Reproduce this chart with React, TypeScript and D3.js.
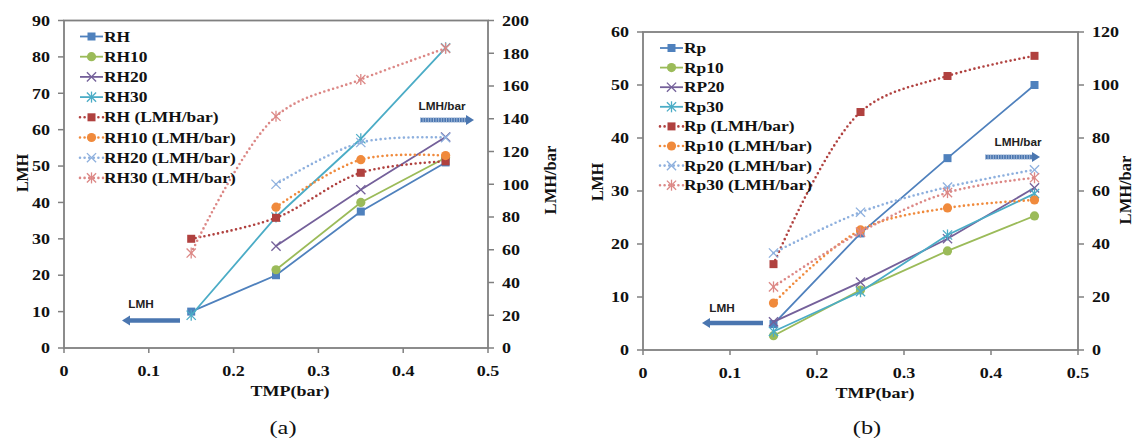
import React from "react";
import * as d3 from "d3";

// Transmembrane pressure (bar) at which each run was measured
const TMP = [0.15, 0.25, 0.35, 0.45];
const X_TICKS = [0, 0.1, 0.2, 0.3, 0.4, 0.5];

// Panel (a): flux in LMH (left axis)
const aRH = [10, 20, 37.5, 51];
const aRH10 = [null, 21.5, 40, 52.3];
const aRH20 = [null, 28, 43.5, 58];
const aRH30 = [9, 36, 57.5, 82.5];
// Panel (a): permeability in LMH/bar (right axis)
const aRHp = [66.7, 79.5, 107, 114];
const aRH10p = [null, 86, 115, 117.5];
const aRH20p = [null, 100, 125.5, 128.5];
const aRH30p = [58, 141.5, 164, 183];
const aLeftTicks = [0, 10, 20, 30, 40, 50, 60, 70, 80, 90];
const aRightTicks = [0, 20, 40, 60, 80, 100, 120, 140, 160, 180, 200];

// Panel (b): flux in LMH (left axis)
const bRp = [4.9, 22, 36.2, 50];
const bRp10 = [2.7, 11.3, 18.7, 25.3];
const bRP20 = [5.3, 12.8, 21, 30.6];
const bRp30 = [3.5, 11, 21.7, 29.5];
// Panel (b): permeability in LMH/bar (right axis)
const bRpP = [32.4, 89.8, 103.4, 111];
const bRp10P = [17.7, 45.3, 53.6, 56.6];
const bRp20P = [36.6, 52, 61.5, 68];
const bRp30P = [23.8, 44.5, 59.4, 65];
const bLeftTicks = [0, 10, 20, 30, 40, 50, 60];
const bRightTicks = [0, 20, 40, 60, 80, 100, 120];

const aNames = ["RH", "RH10", "RH20", "RH30", "RH (LMH/bar)", "RH10 (LMH/bar)", "RH20 (LMH/bar)", "RH30 (LMH/bar)"];
const bNames = ["Rp", "Rp10", "RP20", "Rp30", "Rp (LMH/bar)", "Rp10 (LMH/bar)", "Rp20 (LMH/bar)", "Rp30 (LMH/bar)"];

type Marker = "square" | "circle" | "x" | "star";
type Style = { color: string; marker: Marker; dotted: boolean; axis: "L" | "R" };

const STYLES: Style[] = [
  { color: "#4F81BD", marker: "square", dotted: false, axis: "L" },
  { color: "#9BBB59", marker: "circle", dotted: false, axis: "L" },
  { color: "#74609A", marker: "x", dotted: false, axis: "L" },
  { color: "#4BACC6", marker: "star", dotted: false, axis: "L" },
  { color: "#B0413F", marker: "square", dotted: true, axis: "R" },
  { color: "#F08A3C", marker: "circle", dotted: true, axis: "R" },
  { color: "#8EB0DE", marker: "x", dotted: true, axis: "R" },
  { color: "#DC8886", marker: "star", dotted: true, axis: "R" },
];

const SERIF = "'Liberation Serif', 'Times New Roman', serif";
const SANS = "'Liberation Sans', Arial, sans-serif";
const SX = 1.2;
const AXIS = "#808080";
const ARROW = "#4A76B0";

function T({ x, y, children, size = 15, anchor = "start", weight = "bold", family = SERIF, sx = SX, fill = "#111", dy = "0" }: any) {
  return (
    <text
      transform={`translate(${x},${y}) scale(${sx},1)`}
      textAnchor={anchor}
      fontSize={size}
      fontWeight={weight}
      fontFamily={family}
      fill={fill}
      dy={dy}
    >
      {children}
    </text>
  );
}

function MarkerShape({ kind, x, y, color }: { kind: Marker; x: number; y: number; color: string }) {
  if (kind === "square") return <rect x={x - 4} y={y - 4} width={8} height={8} fill={color} />;
  if (kind === "circle") return <circle cx={x} cy={y} r={4.6} fill={color} />;
  const r = 4.6;
  return (
    <g stroke={color} strokeWidth={1.3} fill="none">
      <line x1={x - r} y1={y - r} x2={x + r} y2={y + r} />
      <line x1={x - r} y1={y + r} x2={x + r} y2={y - r} />
      {kind === "star" && <line x1={x} y1={y - r * 1.2} x2={x} y2={y + r * 1.2} />}
    </g>
  );
}

function Arrow({ x1, x2, y, label, lx, ly, striped }: any) {
  const dir = Math.sign(x2 - x1);
  const head = 8;
  const tipBase = x2 - dir * head;
  return (
    <g>
      <line x1={x1} y1={y} x2={tipBase} y2={y} stroke={ARROW} strokeWidth={4.5} />
      {striped && (
        <line x1={x1} y1={y} x2={tipBase} y2={y} stroke="#9DB6D8" strokeWidth={4.5} strokeDasharray="1 1.6" />
      )}
      <path d={`M${x2},${y} L${tipBase},${y - 5} L${tipBase},${y + 5} Z`} fill={ARROW} />
      <T x={lx} y={ly} size={10.5} family={SANS} anchor="middle" sx={1.12} fill="#222">
        {label}
      </T>
    </g>
  );
}

type PanelProps = {
  left: number; right: number; top: number; bottom: number;
  leftTicks: number[]; rightTicks: number[];
  left_: (number | null)[][]; right_: (number | null)[][];
  names: string[];
  legendX: number; legendY: number; legendStep: number;
  yTitle: [number, number]; y2Title: [number, number];
  xTitleX: number; caption: string; captionX: number;
  arrows: any[];
};

function Panel(p: PanelProps) {
  const x = d3.scaleLinear().domain([0, 0.5]).range([p.left, p.right]);
  const yL = d3.scaleLinear().domain([0, d3.max(p.leftTicks)!]).range([p.bottom, p.top]);
  const yR = d3.scaleLinear().domain([0, d3.max(p.rightTicks)!]).range([p.bottom, p.top]);
  const all = [...p.left_, ...p.right_];

  const series = all.map((vals, i) => {
    const st = STYLES[i];
    const y = st.axis === "L" ? yL : yR;
    const pts = TMP.map((t, j) => ({ t, v: vals[j] })).filter((d) => d.v != null) as { t: number; v: number }[];
    const line = d3
      .line<{ t: number; v: number }>()
      .x((d) => x(d.t))
      .y((d) => y(d.v))
      .curve(st.dotted ? d3.curveCatmullRom.alpha(0.5) : d3.curveLinear);
    return { st, pts, d: line(pts)!, y };
  });

  return (
    <g>
      {/* frame and axes */}
      <rect x={p.left} y={p.top} width={p.right - p.left} height={p.bottom - p.top} fill="none" stroke={AXIS} strokeWidth={1.8} />
      {X_TICKS.map((t) => (
        <g key={"xt" + t}>
          <line x1={x(t)} x2={x(t)} y1={p.bottom} y2={p.bottom + 5} stroke={AXIS} strokeWidth={1.5} />
          <T x={x(t)} y={p.bottom + 28} anchor="middle">{t === 0 ? "0" : String(t)}</T>
        </g>
      ))}
      {p.leftTicks.map((t) => (
        <g key={"yl" + t}>
          <line x1={p.left - 6} x2={p.left} y1={yL(t)} y2={yL(t)} stroke={AXIS} strokeWidth={1.5} />
          <T x={p.left - 14} y={yL(t)} anchor="end" dy="0.35em">{t}</T>
        </g>
      ))}
      {p.rightTicks.map((t) => (
        <g key={"yr" + t}>
          <line x1={p.right} x2={p.right + 6} y1={yR(t)} y2={yR(t)} stroke={AXIS} strokeWidth={1.5} />
          <T x={p.right + 14} y={yR(t)} dy="0.35em">{t}</T>
        </g>
      ))}

      {/* axis titles */}
      <text
        transform={`translate(${p.yTitle[0]},${p.yTitle[1]}) rotate(-90)`}
        textAnchor="middle" dy="0.35em" fontSize={16} fontWeight="bold" fontFamily={SERIF} fill="#111"
      >LMH</text>
      <text
        transform={`translate(${p.y2Title[0]},${p.y2Title[1]}) rotate(-90)`}
        textAnchor="middle" dy="0.35em" fontSize={16.5} fontWeight="bold" fontFamily={SERIF} fill="#111"
      >LMH/bar</text>
      <T x={p.xTitleX} y={p.bottom + 48} anchor="middle">TMP(bar)</T>
      <T x={p.captionX} y={434} anchor="middle" weight="normal" size={18} sx={1.35}>{p.caption}</T>

      {/* series */}
      {series.map((s, i) => (
        <g key={"s" + i}>
          <path
            d={s.d}
            fill="none"
            stroke={s.st.color}
            strokeWidth={s.st.dotted ? 2.6 : 1.8}
            strokeLinecap={s.st.dotted ? "round" : "butt"}
            strokeDasharray={s.st.dotted ? "0 4.6" : undefined}
          />
          {s.pts.map((d, j) => (
            <MarkerShape key={j} kind={s.st.marker} x={x(d.t)} y={s.y(d.v)} color={s.st.color} />
          ))}
        </g>
      ))}

      {/* legend */}
      {p.names.map((name, i) => {
        const st = STYLES[i];
        const cy = p.legendY + i * p.legendStep;
        const x0 = p.legendX;
        return (
          <g key={"lg" + i}>
            <line
              x1={x0} x2={x0 + 23} y1={cy} y2={cy}
              stroke={st.color}
              strokeWidth={st.dotted ? 2.6 : 1.8}
              strokeLinecap={st.dotted ? "round" : "butt"}
              strokeDasharray={st.dotted ? "0 4.6" : undefined}
            />
            <MarkerShape kind={st.marker} x={x0 + 11.5} y={cy} color={st.color} />
            <T x={x0 + 24} y={cy} dy="0.35em" size={14.5}>{name}</T>
          </g>
        );
      })}

      {p.arrows.map((a, i) => <Arrow key={"a" + i} {...a} />)}
    </g>
  );
}

export default function App() {
  return (
    <svg
      width={1136}
      height={441}
      viewBox="0 0 1136 441"
      style={{ position: "absolute", left: 0, top: 0, background: "#fff", display: "block" }}
    >
      <rect width={1136} height={441} fill="#fff" />
      <Panel
        left={64} right={488} top={20.5} bottom={348}
        leftTicks={aLeftTicks} rightTicks={aRightTicks}
        left_={[aRH, aRH10, aRH20, aRH30]} right_={[aRHp, aRH10p, aRH20p, aRH30p]}
        names={aNames}
        legendX={80} legendY={36.5} legendStep={20.2}
        yTitle={[22, 173]} y2Title={[550, 180]}
        xTitleX={290} caption="(a)" captionX={283}
        arrows={[
          { x1: 180, x2: 122, y: 320.5, label: "LMH", lx: 141, ly: 308, striped: false },
          { x1: 420, x2: 474, y: 120, label: "LMH/bar", lx: 442, ly: 110, striped: true },
        ]}
      />
      <Panel
        left={643} right={1078} top={32} bottom={350}
        leftTicks={bLeftTicks} rightTicks={bRightTicks}
        left_={[bRp, bRp10, bRP20, bRp30]} right_={[bRpP, bRp10P, bRp20P, bRp30P]}
        names={bNames}
        legendX={660} legendY={48} legendStep={19.6}
        yTitle={[597, 182]} y2Title={[1125, 190]}
        xTitleX={875} caption="(b)" captionX={867}
        arrows={[
          { x1: 763, x2: 702, y: 323, label: "LMH", lx: 722, ly: 312, striped: false },
          { x1: 985, x2: 1040, y: 157, label: "LMH/bar", lx: 1018, ly: 146, striped: true },
        ]}
      />
    </svg>
  );
}
